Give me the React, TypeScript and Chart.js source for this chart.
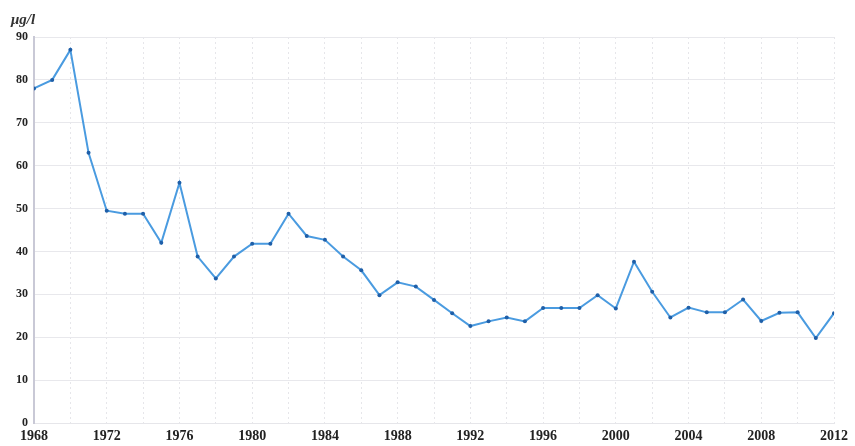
import React, { useEffect, useRef } from "react";
import { Chart, registerables } from "chart.js";

Chart.register(...registerables);

const years: number[] = [
  1968, 1969, 1970, 1971, 1972, 1973, 1974, 1975, 1976, 1977, 1978, 1979, 1980, 1981, 1982,
  1983, 1984, 1985, 1986, 1987, 1988, 1989, 1990, 1991, 1992, 1993, 1994, 1995, 1996, 1997,
  1998, 1999, 2000, 2001, 2002, 2003, 2004, 2005, 2006, 2007, 2008, 2009, 2010, 2011, 2012,
];
const values: number[] = [
  78, 80, 87, 63, 49.5, 48.8, 48.8, 42, 56, 38.8, 33.7, 38.8, 41.8, 41.8, 48.8,
  43.6, 42.7, 38.8, 35.6, 29.8, 32.8, 31.8, 28.7, 25.6, 22.6, 23.7, 24.6, 23.7, 26.8, 26.8,
  26.8, 29.8, 26.7, 37.6, 30.6, 24.6, 26.9, 25.8, 25.8, 28.8, 23.8, 25.7, 25.8, 19.8, 25.6,
];
const yTicks: number[] = [0, 10, 20, 30, 40, 50, 60, 70, 80, 90];
const unitLabel = "μg/l";

export default function App() {
  const ref = useRef<HTMLCanvasElement | null>(null);

  useEffect(() => {
    if (!ref.current) return;
    const unitPlugin = {
      id: "unitLabel",
      afterDraw(chart: any) {
        const { ctx, chartArea } = chart;
        ctx.save();
        ctx.font = "italic bold 15px 'Liberation Serif'";
        ctx.fillStyle = "#333";
        ctx.textAlign = "left";
        ctx.textBaseline = "middle";
        ctx.fillText(unitLabel, chartArea.left - 23, chartArea.top - 17);
        ctx.restore();
      },
    };
    const chart = new Chart(ref.current, {
      type: "line",
      data: {
        datasets: [
          {
            data: years.map((y, i) => ({ x: y, y: values[i] })),
            borderColor: "#4a9be0",
            borderWidth: 2,
            pointRadius: 2,
            pointBackgroundColor: "#1f5fa8",
            pointBorderColor: "#1f5fa8",
            pointBorderWidth: 0,
            tension: 0,
            fill: false,
          },
        ],
      },
      options: {
        animation: false,
        responsive: true,
        maintainAspectRatio: false,
        layout: { padding: { top: 37, right: 21, left: 0, bottom: 0 } },
        plugins: { legend: { display: false }, tooltip: { enabled: false } },
        scales: {
          x: {
            type: "linear",
            min: years[0],
            max: years[years.length - 1],
            afterFit(scale: any) {
              scale.height = 23;
            },
            afterBuildTicks(scale: any) {
              const t: any[] = [];
              for (let v = years[0]; v <= years[years.length - 1]; v += 2) t.push({ value: v });
              scale.ticks = t;
            },
            ticks: {
              autoSkip: false,
              maxRotation: 0,
              padding: 5,
              color: "#222",
              font: { family: "'Liberation Serif'", size: 14, weight: "bold" },
              callback: (v: any) => ((Number(v) - years[0]) % 4 === 0 ? String(v) : ""),
            },
            grid: {
              color: "#e6e6ea",
              lineWidth: 1,
              drawTicks: false,
            },
            border: { display: true, color: "#e6e6ea", dash: [2, 3] },
          },
          y: {
            min: 0,
            max: 90,
            afterFit(scale: any) {
              scale.width = 34;
            },
            afterBuildTicks(scale: any) {
              scale.ticks = yTicks.map((v) => ({ value: v }));
            },
            ticks: {
              padding: 6,
              color: "#222",
              font: { family: "'Liberation Serif'", size: 12, weight: "bold" },
            },
            grid: {
              color: "#e8e8ec",
              lineWidth: 1,
              drawTicks: false,
            },
            border: { display: true, color: "#c9c9d6", width: 2, dash: [] },
          },
        },
      },
      plugins: [unitPlugin],
    } as any);
    return () => chart.destroy();
  }, []);

  return (
    <div style={{ position: "fixed", left: 0, top: 0, width: 855, height: 446, background: "#fff" }}>
      <canvas ref={ref} />
    </div>
  );
}
